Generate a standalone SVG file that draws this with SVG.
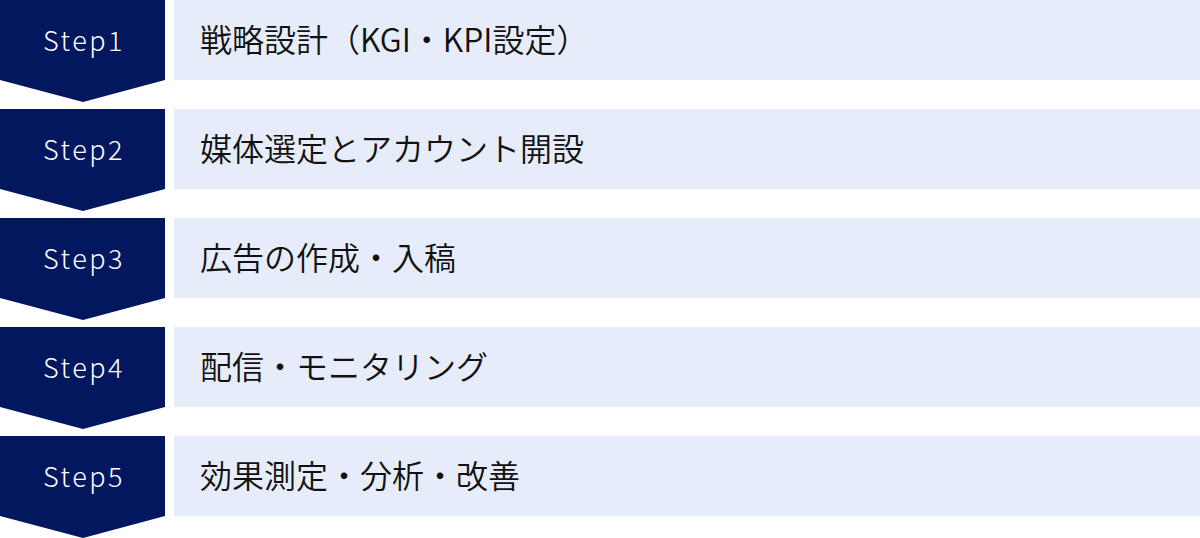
<svg xmlns="http://www.w3.org/2000/svg" width="1200" height="538" viewBox="0 0 1200 538">
<defs>
<style>
.chev{fill:#03175F}
.box{fill:#E6ECF9}
.step{font-family:"Noto Sans CJK JP","Noto Sans",sans-serif;font-weight:300;font-size:27px;fill:#FFFFFF;letter-spacing:2.5px;text-anchor:middle}
.label{font-family:"Noto Sans CJK JP","Noto Sans",sans-serif;font-weight:350;font-size:32px;fill:#111111}
</style>
<path id="chevron" class="chev" d="M0 0H165V80L83 102L0 80Z"/>
</defs>
<g id="step1" transform="translate(0,0)">
<use href="#chevron"/>
<rect class="box" x="174" y="0" width="1026" height="80"/>
<text class="step" x="84" y="51">Step1</text>
<text class="label" x="200" y="52">戦略設計（KGI・KPI設定）</text>
</g>
<g id="step2" transform="translate(0,109)">
<use href="#chevron"/>
<rect class="box" x="174" y="0" width="1026" height="80"/>
<text class="step" x="84" y="51">Step2</text>
<text class="label" x="200" y="52">媒体選定とアカウント開設</text>
</g>
<g id="step3" transform="translate(0,218)">
<use href="#chevron"/>
<rect class="box" x="174" y="0" width="1026" height="80"/>
<text class="step" x="84" y="51">Step3</text>
<text class="label" x="200" y="52">広告の作成・入稿</text>
</g>
<g id="step4" transform="translate(0,327)">
<use href="#chevron"/>
<rect class="box" x="174" y="0" width="1026" height="80"/>
<text class="step" x="84" y="51">Step4</text>
<text class="label" x="200" y="52">配信・モニタリング</text>
</g>
<g id="step5" transform="translate(0,436)">
<use href="#chevron"/>
<rect class="box" x="174" y="0" width="1026" height="80"/>
<text class="step" x="84" y="51">Step5</text>
<text class="label" x="200" y="52">効果測定・分析・改善</text>
</g>
<g id="connectors"></g>
</svg>
